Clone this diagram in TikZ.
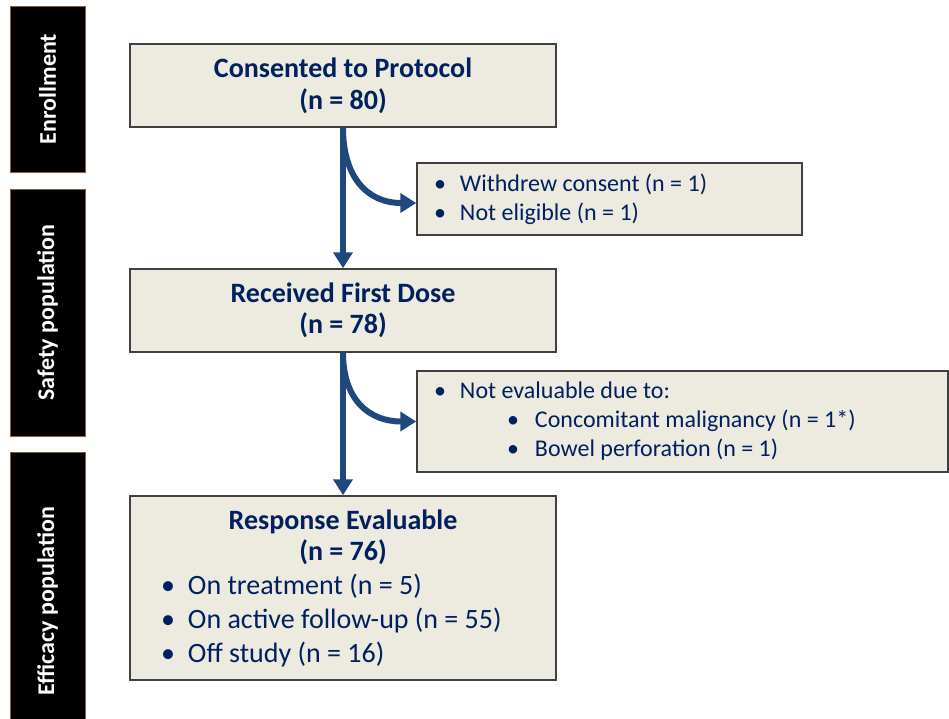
\documentclass[tikz,border=0pt]{standalone}
\usepackage{fontspec}
\setmainfont{Carlito}
\usetikzlibrary{arrows.meta, positioning}
\definecolor{boxfill}{RGB}{237,234,223}
\definecolor{navy}{RGB}{0,32,96}
\definecolor{flowblue}{RGB}{31,73,125}
\definecolor{barline}{RGB}{140,90,50}
\newcommand{\bul}[1]{\makebox[#1][l]{\textbullet}}

\begin{document}
\begin{tikzpicture}[x=1pt, y=-1pt,
  box/.style={draw=black!75, line width=1.5pt, fill=boxfill, text=navy, inner sep=0pt},
  bar/.style={draw=barline, line width=0.8pt, fill=black, text=white,
    font=\fontsize{24}{28}\selectfont\bfseries, rotate=90, minimum height=75pt, inner sep=0pt},
  flow/.style={draw=flowblue, line width=6pt, -{Triangle[length=16pt,width=19pt]}}]
  \useasboundingbox (0,0) rectangle (949,718);
  \foreach \i/\ya/\yb/\txt in {1/6/172/Enrollment, 2/189/436/Safety population, 3/452/750/Efficacy population} {
    \node[bar, minimum width={\yb-\ya}] (B\i) at (47.5, {(\ya+\yb)/2}) {\txt};
  }
  \node[box, minimum width=426pt, minimum height=83pt, align=center,
    font=\fontsize{28}{32}\selectfont\bfseries] (consent) at (343,85.5) {Consented to Protocol\\(n = 80)};
  \node[box, minimum width=426pt, minimum height=83pt, align=center,
    font=\fontsize{28}{31}\selectfont\bfseries] (dose) at (343,310.5) {Received First Dose\\(n = 78)};
  \node[box, minimum width=426pt, minimum height=184pt, inner xsep=31pt, text width=364pt, align=flush left,
    font=\fontsize{28}{31}\selectfont] (resp) at (343,588)
    {\makebox[\linewidth]{\bfseries Response Evaluable}\\
     \makebox[\linewidth]{\bfseries (n = 76)}\\[3pt]
     \bul{27pt}On treatment (n = 5)\\[3pt]
     \bul{27pt}On active follow-up (n = 55)\\[3pt]
     \bul{27pt}Off study (n = 16)};
  \node[box, minimum width=385pt, minimum height=72pt, inner xsep=17pt, text width=351pt, align=flush left,
    font=\fontsize{24}{29}\selectfont] (drop1) at (609.5,199)
    {\bul{26pt}Withdrew consent (n = 1)\\
     \bul{26pt}Not eligible (n = 1)};
  \node[box, minimum width=531pt, minimum height=101pt, inner xsep=17pt, text width=497pt, align=flush left,
    font=\fontsize{24}{29}\selectfont] (drop2) at (682.5,421.5)
    {\bul{26pt}Not evaluable due to:\\
     \hspace*{73pt}\bul{28pt}Concomitant malignancy (n = 1*)\\
     \hspace*{73pt}\bul{28pt}Bowel perforation (n = 1)};
  \draw[flow] (consent.south) -- (dose.north);
  \draw[flow] (dose.south) -- (resp.north);
  \draw[flow] (consent.south) to[out=-90, in=180, looseness=1.2] ([yshift=-4pt]drop1.west);
  \draw[flow] (dose.south) to[out=-90, in=180, looseness=1.2] (drop2.west);
\end{tikzpicture}
\end{document}
